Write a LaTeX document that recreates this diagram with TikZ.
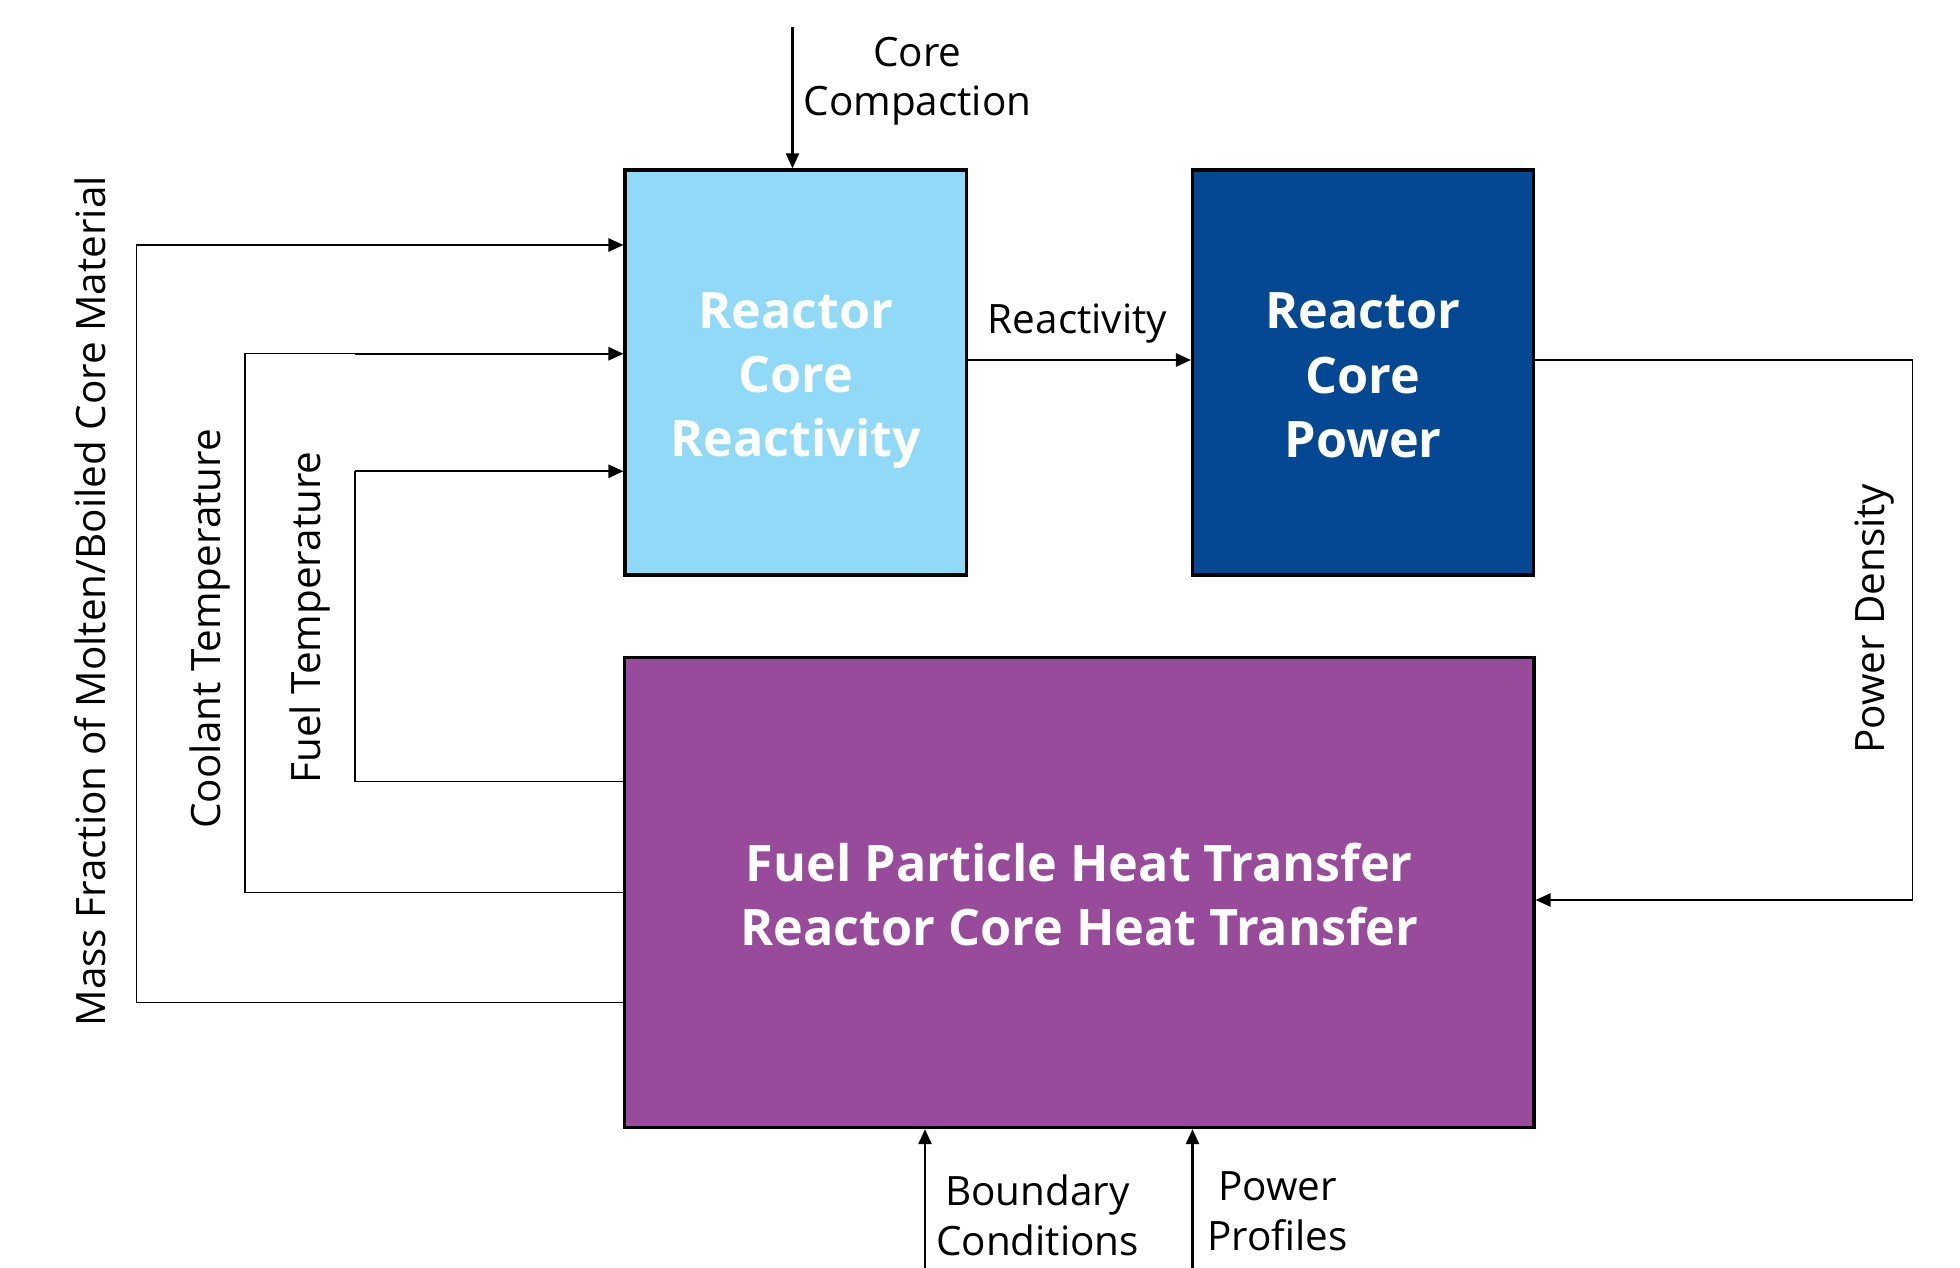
\documentclass[tikz,border=0pt]{standalone}
\usepackage{fontspec}
\setmainfont{Open Sans}
\usetikzlibrary{positioning,calc}
\usetikzlibrary{arrows.meta}
\definecolor{CoreCyan}{RGB}{144,217,247}
\definecolor{CoreNavy}{RGB}{4,71,147}
\definecolor{HeatPurple}{RGB}{151,75,154}
\tikzset{
  blk/.style={draw=black,line width=0.9pt,inner sep=0pt},
  blktext/.style={text=white,align=center,inner sep=0pt,
    font=\bfseries\fontsize{14.3}{18.3}\selectfont},
  link/.style={draw=black,line width=0.35pt},
  feed/.style={draw=black,line width=0.7pt,-{Triangle[length=0.15cm,width=0.13cm]}},
  lbl/.style={font=\fontsize{11.5}{14.2}\selectfont,align=center,inner sep=0pt},
}

\begin{document}
\begin{tikzpicture}[x=0.0125cm,y=-0.0125cm]
\useasboundingbox (0,0) rectangle (1568,1014);
% blocks
\node[blk,fill=CoreCyan,minimum width=3.41cm,minimum height=4.05cm] (react) at (636.5,298) {};
\node[blk,fill=CoreNavy,minimum width=3.41cm,minimum height=4.05cm] (power) at (1090.5,298) {};
\node[blk,fill=HeatPurple,minimum width=9.09cm,minimum height=4.7cm] (heat) at (863.5,714) {};
\node[blktext] (treact) at ([yshift=-0.08cm]react.center) {Reactor\\Core\\Reactivity};
\node[blktext] (tpower) at ([yshift=-0.03cm]power.center) {Reactor\\Core\\Power};
\node[blktext] (theat) at ([yshift=-0.02cm]heat.center) {Fuel Particle Heat Transfer\\Reactor Core Heat Transfer};
% free ends and bends
\coordinate (compin) at (634,22);
\coordinate (reacout) at (773,288);
\coordinate (densbend) at (1530,288);
\coordinate (denslow) at (1530,720);
\coordinate (bcin) at (740,1014);
\coordinate (ppin) at (954,1014);
\coordinate (fuelbot) at (284,625);
\coordinate (fueltop) at (284,377);
\coordinate (coolbot) at (196,714);
\coordinate (cooltop) at (196,283);
\coordinate (cooltap) at (284,283);
\coordinate (massbot) at (109,802);
\coordinate (masstop) at (109,196);
\coordinate (masstap) at (284,196);
% inputs
\draw[feed] (compin) -- (compin |- react.north);
\draw[feed] (bcin) -- (bcin |- heat.south);
\draw[feed] (ppin) -- (ppin |- heat.south);
% reactivity to power
\draw[feed] (reacout) -- (reacout -| power.west);
% power density loop
\draw[link] (densbend -| power.east) -- (densbend) -- (denslow);
\draw[feed] (denslow) -- (denslow -| heat.east);
% feedback to reactivity
\draw[link] (fuelbot -| heat.west) -- (fuelbot) -- (fueltop);
\draw[feed] (fueltop) -- (fueltop -| react.west);
\draw[link] (coolbot -| heat.west) -- (coolbot) -- (cooltop) -- (cooltap);
\draw[feed] (cooltap) -- (cooltap -| react.west);
\draw[link] (massbot -| heat.west) -- (massbot) -- (masstop) -- (masstap);
\draw[feed] (masstap) -- (masstap -| react.west);
% labels
\node[lbl] (lcomp) at (734,65) {Core\\Compaction};
\node[lbl] (lreac) at (862,259) {Reactivity};
\node[lbl,rotate=90] (ldens) at (1500,495) {Power Density};
\node[lbl,rotate=90] (lfuel) at (248,494) {Fuel Temperature};
\node[lbl,rotate=90] (lcool) at (168,503) {Coolant Temperature};
\node[lbl,rotate=90] (lmass) at (72,481) {Mass Fraction of Molten/Boiled Core Material};
\node[lbl] (lbc) at (830,972) {Boundary\\Conditions};
\node[lbl] (lpp) at (1022,969) {Power\\Profiles};
\end{tikzpicture}
\end{document}
